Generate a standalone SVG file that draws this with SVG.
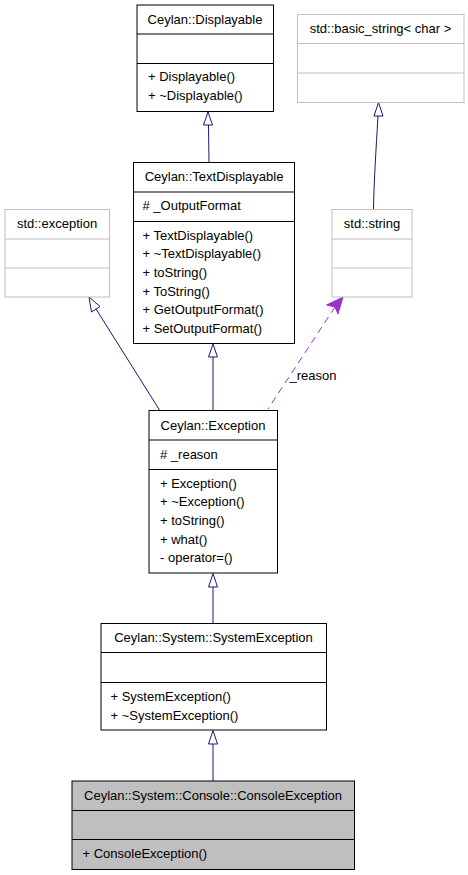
<svg xmlns="http://www.w3.org/2000/svg" width="468" height="875" viewBox="0 0 468 875">
<style>
text{font-family:"Liberation Sans",Arial,sans-serif;font-size:13px;fill:#000}
.t{text-anchor:middle}
.b{fill:#fff;stroke:#000;stroke-width:1}
.g{fill:#fff;stroke:#bfbfbf;stroke-width:1}
.c{fill:#bfbfbf;stroke:#000;stroke-width:1}
.dk{stroke:#000;stroke-width:1}
.dg{stroke:#bfbfbf;stroke-width:1}
.e{fill:none;stroke:#191970;stroke-width:1}
.h{fill:#fff;stroke:#191970;stroke-width:1}
.u{fill:none;stroke:#9a32cd;stroke-width:1;stroke-dasharray:7,5}
.uh{fill:#9a32cd;stroke:#9a32cd;stroke-width:1}
</style>
<rect width="468" height="875" fill="#fff"/>
<g id="connectors">
<path class="e" d="M208.5,125 L209,163"/>
<polygon class="h" points="208,112 203.5,125 212.5,125"/>
<path class="e" d="M378,116 C376,150 374,180 373.5,209"/>
<polygon class="h" points="378.5,102.5 374,116 383,116"/>
<path class="e" d="M96,309 L159.5,410"/>
<polygon class="h" points="89,297 91.5,312 100,306.5"/>
<path class="e" d="M213,357 L213,410"/>
<polygon class="h" points="213,344 208.5,357 217.5,357"/>
<path class="u" d="M335,307 L268,409"/>
<polygon class="uh" points="343,297 326.5,305 335,307 338,314"/>
<text x="289.5" y="379.5">_reason</text>
<path class="e" d="M213,587 L213,623"/>
<polygon class="h" points="213,573.5 208.5,587 217.5,587"/>
<path class="e" d="M213,744 L213,781"/>
<polygon class="h" points="213,730.5 208.5,744 217.5,744"/>
</g>
<g id="displayable">
<rect class="b" x="137" y="5" width="136.5" height="106.5"/>
<line class="dk" x1="137" y1="34" x2="273.5" y2="34"/>
<line class="dk" x1="137" y1="63.5" x2="273.5" y2="63.5"/>
<text class="t" x="205" y="23.5">Ceylan::Displayable</text>
<text x="148" y="81">+ Displayable()</text>
<text x="148" y="100">+ ~Displayable()</text>
</g>
<g id="basic_string">
<rect class="g" x="297.5" y="14.5" width="166.5" height="88"/>
<line class="dg" x1="297.5" y1="43.5" x2="464" y2="43.5"/>
<line class="dg" x1="297.5" y1="73" x2="464" y2="73"/>
<text class="t" x="380.5" y="33">std::basic_string&lt; char &gt;</text>
</g>
<g id="textdisplayable">
<rect class="b" x="133.5" y="162.5" width="161" height="181"/>
<line class="dk" x1="133.5" y1="192" x2="294.5" y2="192"/>
<line class="dk" x1="133.5" y1="221.5" x2="294.5" y2="221.5"/>
<text class="t" x="214" y="181">Ceylan::TextDisplayable</text>
<text x="142.5" y="209.5"># _OutputFormat</text>
<text x="142.5" y="239.5">+ TextDisplayable()</text>
<text x="142.5" y="258">+ ~TextDisplayable()</text>
<text x="142.5" y="276.5">+ toString()</text>
<text x="142.5" y="295.5">+ ToString()</text>
<text x="142.5" y="314">+ GetOutputFormat()</text>
<text x="142.5" y="332.5">+ SetOutputFormat()</text>
</g>
<g id="std_exception">
<rect class="g" x="5" y="209.5" width="104.5" height="87.5"/>
<line class="dg" x1="5" y1="239" x2="109.5" y2="239"/>
<line class="dg" x1="5" y1="268" x2="109.5" y2="268"/>
<text class="t" x="57" y="228">std::exception</text>
</g>
<g id="std_string">
<rect class="g" x="332" y="209.5" width="80" height="87.5"/>
<line class="dg" x1="332" y1="239" x2="412" y2="239"/>
<line class="dg" x1="332" y1="268" x2="412" y2="268"/>
<text class="t" x="372" y="228">std::string</text>
</g>
<g id="exception">
<rect class="b" x="149" y="410.5" width="128.5" height="162.5"/>
<line class="dk" x1="149" y1="440" x2="277.5" y2="440"/>
<line class="dk" x1="149" y1="469.5" x2="277.5" y2="469.5"/>
<text class="t" x="213" y="429.5">Ceylan::Exception</text>
<text x="160" y="458.5"># _reason</text>
<text x="160" y="488">+ Exception()</text>
<text x="160" y="506">+ ~Exception()</text>
<text x="160" y="524.5">+ toString()</text>
<text x="160" y="543.5">+ what()</text>
<text x="160" y="562">- operator=()</text>
</g>
<g id="systemexception">
<rect class="b" x="101" y="623.5" width="225.5" height="106.5"/>
<line class="dk" x1="101" y1="652.5" x2="326.5" y2="652.5"/>
<line class="dk" x1="101" y1="682.5" x2="326.5" y2="682.5"/>
<text class="t" x="213.5" y="642">Ceylan::System::SystemException</text>
<text x="110.5" y="701">+ SystemException()</text>
<text x="110.5" y="720">+ ~SystemException()</text>
</g>
<g id="consoleexception">
<rect class="c" x="72" y="781" width="282.5" height="88.5"/>
<line class="dk" x1="72" y1="810.5" x2="354.5" y2="810.5"/>
<line class="dk" x1="72" y1="839.5" x2="354.5" y2="839.5"/>
<text class="t" x="213" y="800">Ceylan::System::Console::ConsoleException</text>
<text x="82.5" y="858">+ ConsoleException()</text>
</g>
</svg>
